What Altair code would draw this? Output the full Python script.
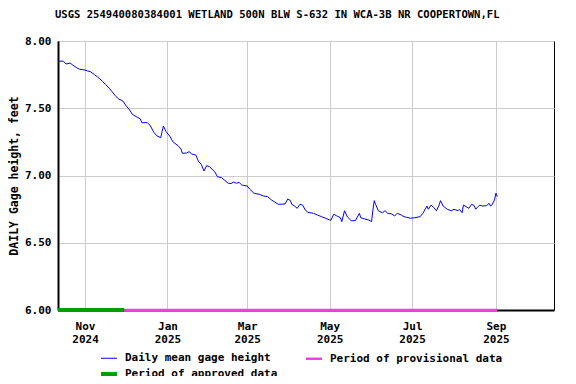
import altair as alt
import pandas as pd

# Daily mean gage height
dates = [
    "2024-10-12", "2024-10-16", "2024-10-18", "2024-10-21", "2024-10-23", "2024-10-26", "2024-10-28",
    "2024-11-01", "2024-11-03", "2024-11-05", "2024-11-08", "2024-11-10", "2024-11-14", "2024-11-16",
    "2024-11-19", "2024-11-21", "2024-11-24", "2024-11-26", "2024-11-29", "2024-12-01", "2024-12-04",
    "2024-12-06", "2024-12-09", "2024-12-12", "2024-12-13", "2024-12-17", "2024-12-19", "2024-12-22",
    "2024-12-24", "2024-12-27", "2024-12-28", "2024-12-29", "2024-12-31", "2025-01-03", "2025-01-05",
    "2025-01-09", "2025-01-11", "2025-01-12", "2025-01-15", "2025-01-17", "2025-01-19", "2025-01-22",
    "2025-01-24", "2025-01-26", "2025-01-28", "2025-01-30", "2025-02-01", "2025-02-05", "2025-02-07",
    "2025-02-10", "2025-02-12", "2025-02-15", "2025-02-17", "2025-02-19", "2025-02-21", "2025-02-23",
    "2025-02-25", "2025-03-01", "2025-03-03", "2025-03-06", "2025-03-10", "2025-03-13", "2025-03-16",
    "2025-03-19", "2025-03-21", "2025-03-24", "2025-03-29", "2025-03-31", "2025-04-02", "2025-04-03",
    "2025-04-05", "2025-04-07", "2025-04-09", "2025-04-11", "2025-04-13", "2025-04-15", "2025-04-19",
    "2025-04-22", "2025-04-25", "2025-04-28", "2025-05-01", "2025-05-02", "2025-05-04", "2025-05-06",
    "2025-05-09", "2025-05-10", "2025-05-12", "2025-05-14", "2025-05-17", "2025-05-20", "2025-05-23",
    "2025-05-24", "2025-05-27", "2025-05-30", "2025-06-01", "2025-06-02", "2025-06-03", "2025-06-04",
    "2025-06-06", "2025-06-09", "2025-06-11", "2025-06-13", "2025-06-16", "2025-06-18", "2025-06-20",
    "2025-06-23", "2025-06-25", "2025-06-27", "2025-06-30", "2025-07-03", "2025-07-07", "2025-07-09",
    "2025-07-12", "2025-07-13", "2025-07-15", "2025-07-17", "2025-07-19", "2025-07-21", "2025-07-22",
    "2025-07-24", "2025-07-27", "2025-07-30", "2025-08-01", "2025-08-04", "2025-08-05", "2025-08-07",
    "2025-08-08", "2025-08-10", "2025-08-12", "2025-08-14", "2025-08-16", "2025-08-17", "2025-08-20",
    "2025-08-22", "2025-08-25", "2025-08-27", "2025-08-28", "2025-08-29", "2025-08-31", "2025-09-01",
    "2025-09-02",
]
heights = [
    7.850, 7.850, 7.829, 7.836, 7.820, 7.800, 7.790,
    7.784, 7.777, 7.772, 7.750, 7.735, 7.700, 7.678,
    7.648, 7.623, 7.586, 7.569, 7.554, 7.524, 7.487,
    7.455, 7.437, 7.420, 7.393, 7.393, 7.375, 7.320,
    7.296, 7.281, 7.326, 7.368, 7.326, 7.288, 7.251,
    7.220, 7.197, 7.165, 7.167, 7.177, 7.160, 7.152,
    7.103, 7.083, 7.033, 7.073, 7.066, 7.028, 6.991,
    6.984, 6.967, 6.942, 6.940, 6.952, 6.942, 6.949,
    6.929, 6.922, 6.897, 6.868, 6.860, 6.848, 6.843,
    6.818, 6.805, 6.786, 6.788, 6.825, 6.813, 6.786,
    6.773, 6.756, 6.786, 6.780, 6.743, 6.726, 6.719,
    6.706, 6.694, 6.682, 6.669, 6.669, 6.712, 6.701,
    6.686, 6.657, 6.738, 6.694, 6.664, 6.664, 6.719,
    6.686, 6.677, 6.669, 6.657, 6.743, 6.813, 6.786,
    6.738, 6.723, 6.738, 6.719, 6.714, 6.699, 6.719,
    6.706, 6.694, 6.689, 6.682, 6.686, 6.694, 6.719,
    6.773, 6.749, 6.780, 6.763, 6.738, 6.780, 6.813,
    6.773, 6.749, 6.738, 6.749, 6.738, 6.749, 6.723,
    6.780, 6.768, 6.756, 6.786, 6.776, 6.749, 6.780,
    6.773, 6.776, 6.793, 6.773, 6.780, 6.818, 6.868,
    6.843,
]

# Series: sort keys (legend order) and their displayed names
series_keys = ["A", "B", "C"]
series_names = ["Daily mean gage height", "Period of provisional data", "Period of approved data"]
series_colors = ["#0000FF", "#EE44DD", "#009E00"]
series_widths = [1, 4, 4]

# Data-approval periods
period_keys = ["C", "B"]
period_starts = ["2024-10-12", "2024-11-30"]
period_ends = ["2024-11-30", "2025-09-02"]
period_level = [6.0, 6.0]

y_ticks = [6.0, 6.5, 7.0, 7.5, 8.0]
x_ticks = [(2024, 11), (2025, 1), (2025, 3), (2025, 5), (2025, 7), (2025, 9)]

FONT = "DejaVu Sans Mono"

daily = pd.DataFrame({
    "date": [d + "T00:00:00" for d in dates],
    "value": heights,
    "series": series_keys[0],
})
periods = pd.DataFrame({
    "start": [d + "T00:00:00" for d in period_starts],
    "end": [d + "T00:00:00" for d in period_ends],
    "value": period_level,
    "series": period_keys,
})

label_expr = " : ".join(
    f"datum.label == '{k}' ? '{n}'" for k, n in zip(series_keys[:-1], series_names[:-1])
) + f" : '{series_names[-1]}'"

legend = alt.Legend(
    title=None, orient="none", direction="horizontal", legendX=41, legendY=308, columns=2,
    symbolType="stroke", symbolSize=256, labelFont=FONT, labelFontSize=11,
    labelFontWeight="bold", labelColor="black", columnPadding=23, rowPadding=0,
    labelOffset=6, labelLimit=0, labelExpr=label_expr,
)
color = alt.Color("series:N", scale=alt.Scale(domain=series_keys, range=series_colors), legend=legend)
swidth = alt.StrokeWidth("series:N", scale=alt.Scale(domain=series_keys, range=series_widths), legend=legend)

x_scale = alt.Scale(domain=[alt.DateTime(year=2024, month=10, date=12),
                            alt.DateTime(year=2025, month=10, date=14)])
x_axis = alt.Axis(
    title=None, values=[alt.DateTime(year=y, month=m, date=1) for y, m in x_ticks],
    labelExpr="[timeFormat(datum.value, '%b'), timeFormat(datum.value, '%Y')]",
    ticks=False, labelPadding=10, labelLineHeight=13, grid=True,
)
y_scale = alt.Scale(domain=[6, 8], nice=False, zero=False)
y_axis = alt.Axis(title="DAILY Gage height, feet", values=y_ticks, format=".2f",
                  ticks=False, labelPadding=7, titlePadding=5, grid=True)

line = alt.Chart(daily).mark_line(clip=True).encode(
    x=alt.X("date:T", scale=x_scale, axis=x_axis),
    y=alt.Y("value:Q", scale=y_scale, axis=y_axis),
    color=color,
    strokeWidth=swidth,
)
bars = alt.Chart(periods).mark_rule().encode(
    x="start:T",
    x2="end:T",
    y="value:Q",
    color=color,
    strokeWidth=swidth,
)

chart = alt.layer(bars, line).properties(
    width=496, height=269,
    title=alt.TitleParams(
        text="USGS 254940080384001 WETLAND 500N BLW S-632 IN WCA-3B NR COOPERTOWN,FL",
        anchor="start", frame="group", dx=-3, offset=14, font=FONT, fontSize=10.55,
        fontWeight="bold", color="black",
    ),
    autosize=alt.AutoSizeParams(type="none"),
    padding={"left": 50, "top": 33, "right": 12, "bottom": 66},
).configure_view(
    stroke="black", strokeWidth=1,
).configure_axis(
    labelFont=FONT, labelFontSize=11, labelFontWeight="bold", labelColor="black",
    titleFont=FONT, titleFontSize=11.5, titleFontWeight="bold", titleColor="black",
    gridColor="#CCCCCC", gridWidth=1, domainColor="black", domainWidth=2,
)

chart.save("out.html", embed_options={"renderer": "svg", "actions": False})
